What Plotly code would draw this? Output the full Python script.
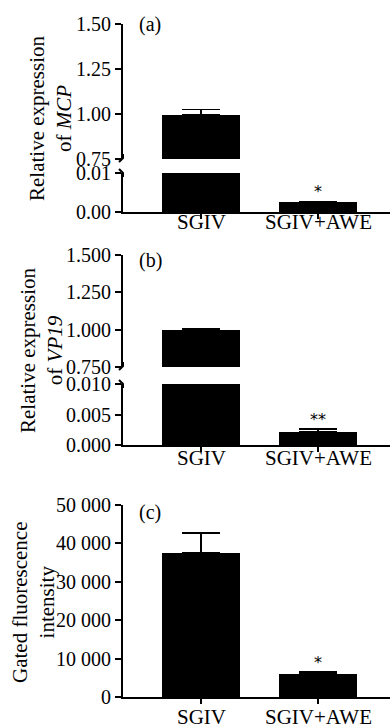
import plotly.graph_objects as go

W, H = 392, 728

categories = ["SGIV", "SGIV+AWE"]
x_pos = [0, 1]

a_mean = [0.995, 0.0026]
a_err = [0.03, 0.0001]
a_stars = ["", "*"]

b_mean = [1.0, 0.0021]
b_err = [0.004, 0.0005]
b_stars = ["", "**"]

c_mean = [37500, 6000]
c_err = [5200, 500]
c_stars = ["", "*"]

a_up_ticks = [0.75, 1.0, 1.25, 1.5]
a_up_text = ["0.75", "1.00", "1.25", "1.50"]
a_lo_ticks = [0, 0.01]
a_lo_text = ["0.00", "0.01"]
b_up_ticks = [0.75, 1.0, 1.25, 1.5]
b_up_text = ["0.750", "1.000", "1.250", "1.500"]
b_lo_ticks = [0, 0.005, 0.01]
b_lo_text = ["0.000", "0.005", "0.010"]
c_ticks = [0, 10000, 20000, 30000, 40000, 50000]
c_text = ["0", "10 000", "20 000", "30 000", "40 000", "50 000"]

FONT = "Liberation Serif"


def px(x):
    return x / W


def py(y):
    return 1 - y / H


fig = go.Figure()


def add_bars(mean, err, xa, ya):
    fig.add_trace(go.Bar(
        x=x_pos, y=mean, xaxis=xa, yaxis=ya, width=0.667,
        marker=dict(color="black", line=dict(width=0)),
        error_y=dict(type="data", array=err, arrayminus=[0] * len(err), symmetric=False,
                     color="black", thickness=1.5, width=19),
        showlegend=False, hoverinfo="skip"))


add_bars(a_mean, a_err, "x", "y")
add_bars(a_mean, a_err, "x", "y2")
add_bars(b_mean, b_err, "x2", "y3")
add_bars(b_mean, b_err, "x2", "y4")
add_bars(c_mean, c_err, "x3", "y5")

xdom = [px(123), px(390)]
tickfont = dict(family=FONT, size=20, color="black")

common_x = dict(domain=xdom, range=[-0.667, 1.615], showline=True, linecolor="black", linewidth=2,
                ticks="outside", ticklen=5, tickwidth=1.5, tickcolor="black", automargin=False,
                tickvals=x_pos, showticklabels=False,
                showgrid=False, zeroline=False, fixedrange=True)

common_y = dict(showline=True, linecolor="black", linewidth=2, ticks="outside", ticklen=6,
                tickwidth=1.5, tickcolor="black", tickfont=tickfont, showgrid=False, zeroline=False,
                fixedrange=True, automargin=False)

fig.update_layout(
    width=W, height=H, margin=dict(l=0, r=0, t=0, b=0, autoexpand=False),
    paper_bgcolor="white", plot_bgcolor="white", bargap=0,
    xaxis=dict(common_x, anchor="y2"),
    xaxis2=dict(common_x, anchor="y4"),
    xaxis3=dict(common_x, anchor="y5"),
    yaxis=dict(common_y, anchor="x", domain=[py(159), py(24)], range=[0.75, 1.5],
               tickvals=a_up_ticks, ticktext=a_up_text),
    yaxis2=dict(common_y, anchor="x", domain=[py(212), py(173)], range=[0, 0.01],
                tickvals=a_lo_ticks, ticktext=a_lo_text),
    yaxis3=dict(common_y, anchor="x2", domain=[py(367), py(255)], range=[0.75, 1.5],
                tickvals=b_up_ticks, ticktext=b_up_text),
    yaxis4=dict(common_y, anchor="x2", domain=[py(445), py(384)], range=[0, 0.01],
                tickvals=b_lo_ticks, ticktext=b_lo_text),
    yaxis5=dict(common_y, anchor="x3", domain=[py(697), py(505)], range=[0, 50000],
                tickvals=c_ticks, ticktext=c_text),
)

ann = []
# category labels (placed just under each x axis)
for xa, y_lab in [("x", 222), ("x2", 458), ("x3", 717)]:
    for xi, cat in zip(x_pos, categories):
        ann.append(dict(text=cat, x=xi, y=py(y_lab), xref=xa, yref="paper", showarrow=False,
                        xanchor="center", yanchor="middle",
                        font=dict(family=FONT, size=21, color="black")))

# axis titles
titles = [
    ("Relative expression<br>of <i>MCP</i>", 51, 118),
    ("Relative expression<br>of <i>VP19</i>", 41, 350),
    ("Gated fluorescence<br>intensity", 33, 602),
]
for t, cx, cy in titles:
    ann.append(dict(text=t, x=px(cx), y=py(cy), xref="paper", yref="paper", textangle=-90,
                    showarrow=False, xanchor="center", yanchor="middle",
                    font=dict(family=FONT, size=21, color="black")))

# panel labels
for t, cx, cy in [("(a)", 150, 25), ("(b)", 150, 260), ("(c)", 150, 512)]:
    ann.append(dict(text=t, x=px(cx), y=py(cy), xref="paper", yref="paper", showarrow=False,
                    xanchor="center", yanchor="middle", font=dict(family=FONT, size=20, color="black")))

# significance stars
for stars, mean, err, xa, ya in [(a_stars, a_mean, a_err, "x", "y2"),
                                 (b_stars, b_mean, b_err, "x2", "y4"),
                                 (c_stars, c_mean, c_err, "x3", "y5")]:
    for xi, s, m, e in zip(x_pos, stars, mean, err):
        if s:
            ann.append(dict(text=s, x=xi, y=m + e, xref=xa, yref=ya, showarrow=False,
                            xanchor="center", yanchor="bottom", yshift=-2,
                            font=dict(family="DejaVu Sans", size=16, color="black")))

fig.update_layout(annotations=ann)

# axis break marks (decorative)
shapes = []
for y_end, y_start in [(159, 173), (367, 384)]:
    shapes.append(dict(type="path", xref="paper", yref="paper",
                       path=f"M {px(123)},{py(y_end - 5)} L {px(123)},{py(y_end - 1)} L {px(119)},{py(y_end + 3)}",
                       line=dict(color="black", width=2)))
    shapes.append(dict(type="path", xref="paper", yref="paper",
                       path=f"M {px(119)},{py(y_start - 4)} L {px(123)},{py(y_start)} L {px(123)},{py(y_start + 4)}",
                       line=dict(color="black", width=2)))
fig.update_layout(shapes=shapes)

fig.write_html("out.html")
